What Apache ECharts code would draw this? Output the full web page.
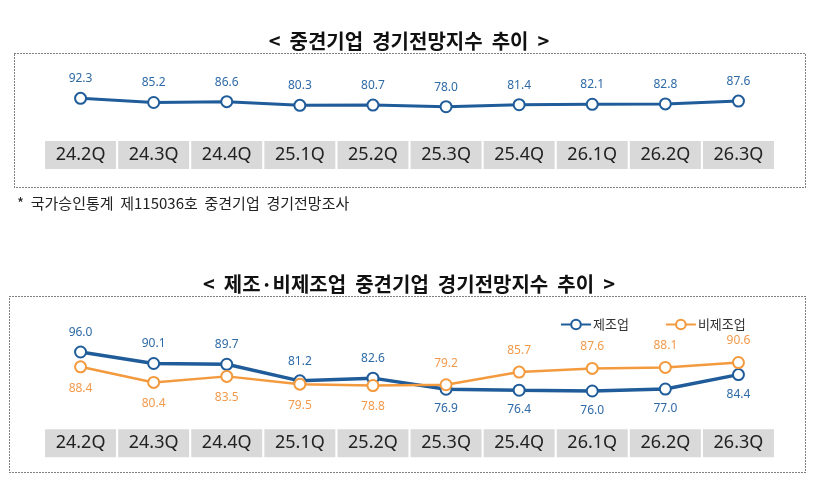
<!DOCTYPE html>
<html>
<head>
<meta charset="utf-8">
<script src="https://cdn.jsdelivr.net/npm/echarts@6/dist/echarts.min.js"></script>
<style>
  html, body { margin: 0; padding: 0; background: #fff; }
  #main { width: 818px; height: 491px; }
</style>
</head>
<body>
<div id="main"></div>
<script>
// quarters shown in the gray cells
const quarters = ['24.2Q', '24.3Q', '24.4Q', '25.1Q', '25.2Q', '25.3Q', '25.4Q', '26.1Q', '26.2Q', '26.3Q'];
// 중견기업 전체
const totalIndex = [92.3, 85.2, 86.6, 80.3, 80.7, 78.0, 81.4, 82.1, 82.8, 87.6];
// 제조업 / 비제조업
const mfgIndex = [96.0, 90.1, 89.7, 81.2, 82.6, 76.9, 76.4, 76.0, 77.0, 84.4];
const nonMfgIndex = [88.4, 80.4, 83.5, 79.5, 78.8, 79.2, 85.7, 87.6, 88.1, 90.6];

const blue = '#1f5c99';
const blueText = '#2e6aa6';
const orange = '#f39a3e';
const orangeText = '#f29a4c';
const font = '"Noto Sans CJK KR", "Noto Sans", sans-serif';
const swapAt = 5; // from 25.3Q the labels change sides

var chartDom = document.getElementById('main');
var myChart = echarts.init(chartDom);

const cellLabel = {
    show: true,
    interval: 0,
    margin: 12,
    color: '#222',
    fontSize: 18,
    fontFamily: '"Noto Sans", sans-serif',
    backgroundColor: '#d9d9d9',
    width: 71,
    height: 28,
    lineHeight: 28,
    align: 'center'
};

function labelled(values, topFirst) {
    return values.map((v, i) => ({
        value: v,
        label: { position: (i < swapAt) === topFirst ? 'top' : 'bottom' }
    }));
}

// dotted frame around each chart
function frame(x, y, w, h) {
    return {
        type: 'rect', silent: true,
        shape: { x: x + 0.5, y: y + 0.5, width: w, height: h },
        style: { fill: null, stroke: '#000', lineWidth: 1, lineDash: [1, 2] }
    };
}

var option = {
    animation: false,
    backgroundColor: '#fff',
    title: [
        {
            text: '<  중견기업  경기전망지수  추이  >',
            left: 'center', top: 26,
            textStyle: { fontSize: 20, fontWeight: 'bold', color: '#111', fontFamily: font }
        },
        {
            text: '<  제조·비제조업  중견기업  경기전망지수  추이  >',
            left: 'center', top: 269,
            textStyle: { fontSize: 20, fontWeight: 'bold', color: '#111', fontFamily: font }
        },
        {
            text: '*  국가승인통계  제115036호  중견기업  경기전망조사',
            left: 12, top: 191,
            textStyle: { fontSize: 15, fontWeight: 'normal', color: '#222', fontFamily: font }
        }
    ],
    graphic: [
        frame(14, 53, 791, 134),
        frame(9, 296, 796, 176)
    ],
    legend: {
        left: 555, top: 313,
        itemWidth: 30, itemHeight: 12, itemGap: 36,
        textStyle: { fontSize: 13, color: '#333', fontFamily: font, padding: [0, 0, 0, -3] },
        data: ['제조업', '비제조업']
    },
    grid: [
        { left: 44, right: 43, top: 93.8, height: 35.2 },
        { left: 44, right: 43, top: 324.7, height: 97.5 }
    ],
    xAxis: [
        {
            type: 'category', gridIndex: 0, data: quarters, boundaryGap: true,
            axisLine: { show: false }, axisTick: { show: false }, splitLine: { show: false },
            axisLabel: cellLabel
        },
        {
            type: 'category', gridIndex: 1, data: quarters, boundaryGap: true,
            axisLine: { show: false }, axisTick: { show: false }, splitLine: { show: false },
            axisLabel: Object.assign({}, cellLabel, { margin: 7 })
        }
    ],
    yAxis: [
        { type: 'value', gridIndex: 0, min: 40, max: 100, show: false },
        { type: 'value', gridIndex: 1, min: 60, max: 110, show: false }
    ],
    series: [
        {
            name: '중견기업',
            type: 'line',
            xAxisIndex: 0, yAxisIndex: 0,
            symbol: 'emptyCircle', symbolSize: 11,
            color: blue,
            lineStyle: { color: blue, width: 3 },
            itemStyle: { color: blue, borderWidth: 3 },
            label: {
                show: true, position: 'top', distance: 7,
                color: blueText, fontSize: 12, fontFamily: '"Noto Sans", sans-serif',
                formatter: p => p.value.toFixed(1)
            },
            data: totalIndex
        },
        {
            name: '제조업',
            type: 'line',
            xAxisIndex: 1, yAxisIndex: 1,
            symbol: 'emptyCircle', symbolSize: 11,
            color: blue,
            lineStyle: { color: blue, width: 3.5 },
            itemStyle: { color: blue, borderWidth: 3 },
            label: {
                show: true, distance: 7,
                color: blueText, fontSize: 12, fontFamily: '"Noto Sans", sans-serif',
                formatter: p => p.value.toFixed(1)
            },
            data: labelled(mfgIndex, true)
        },
        {
            name: '비제조업',
            type: 'line',
            xAxisIndex: 1, yAxisIndex: 1,
            symbol: 'emptyCircle', symbolSize: 11,
            color: orange,
            lineStyle: { color: orange, width: 2.5 },
            itemStyle: { color: orange, borderWidth: 2 },
            label: {
                show: true, distance: 9,
                color: orangeText, fontSize: 12, fontFamily: '"Noto Sans", sans-serif',
                formatter: p => p.value.toFixed(1)
            },
            data: labelled(nonMfgIndex, false)
        }
    ]
};

option && myChart.setOption(option);
</script>
</body>
</html>
